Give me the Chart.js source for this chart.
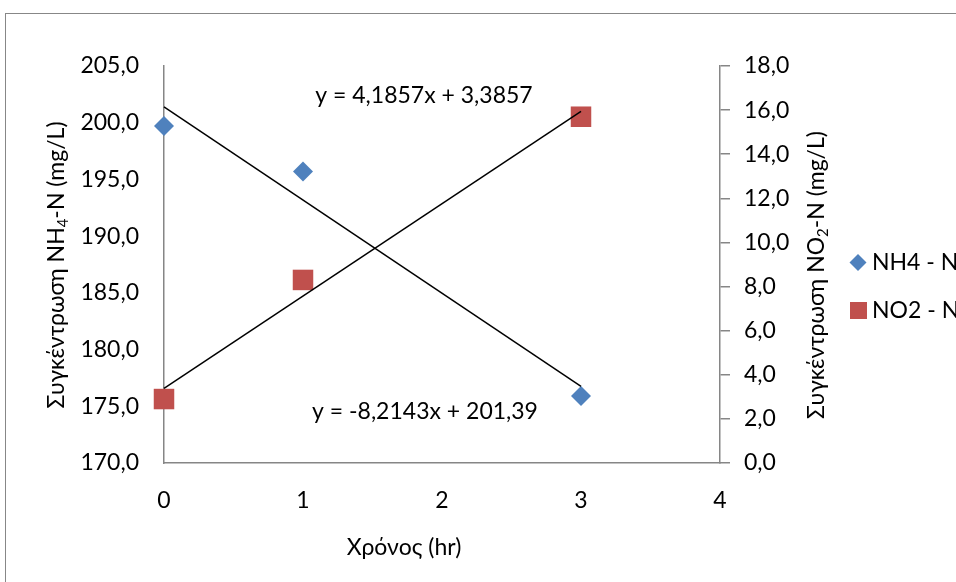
<!DOCTYPE html>
<html>
<head>
<meta charset="utf-8">
<script src="https://cdn.jsdelivr.net/npm/chart.js@4.4.1/dist/chart.umd.min.js"></script>
<style>
    html, body { margin: 0; padding: 0; background: #fff; }
    #wrap { width: 956px; height: 582px; }
</style>
</head>
<body>
<div id="wrap"><canvas id="myChart" width="956" height="582"></canvas></div>
<script>
// Δεδομένα (τιμές από το γράφημα)
const times = [0, 1, 3];
const nh4 = [199.7, 195.7, 175.9];
const no2 = [2.9, 8.3, 15.7];

// Γραμμές τάσης (εξισώσεις όπως φαίνονται)
const trendX = [0, 3];
const nh4Trend = { slope: -8.2143, intercept: 201.39 };
const no2Trend = { slope: 4.1857, intercept: 3.3857 };
const nh4Label = 'y = -8,2143x + 201,39';
const no2Label = 'y = 4,1857x + 3,3857';

const seriesNames = ['NH4 - N', 'NO2 - N'];
const FONT = 'Lato, "Open Sans", sans-serif';
const AXIS_GRAY = '#868686';
const BLUE = '#4F81BD';
const RED = '#C0504D';

function fmt(v) {
    return v.toFixed(1).replace('.', ',');
}

// Κείμενο με δείκτη (subscript)
function drawParts(ctx, parts, x, y, size) {
    let total = 0;
    parts.forEach(p => {
        ctx.font = (p.sub ? size * 0.65 : size) + 'px ' + FONT;
        p.w = ctx.measureText(p.t).width;
        total += p.w;
    });
    let cx = x - total / 2;
    parts.forEach(p => {
        ctx.font = (p.sub ? size * 0.65 : size) + 'px ' + FONT;
        ctx.fillText(p.t, cx, p.sub ? y + size * 0.28 : y);
        cx += p.w;
    });
}

const extras = {
    id: 'extras',
    beforeDraw(chart) {
        const ctx = chart.ctx;
        ctx.save();
        ctx.strokeStyle = '#878787';
        ctx.lineWidth = 1;
        ctx.strokeRect(5.5, 13.5, 1000, 1000);
        ctx.restore();
    },
    afterDraw(chart) {
        const ctx = chart.ctx;
        ctx.save();
        ctx.fillStyle = '#000';
        ctx.textBaseline = 'middle';
        ctx.textAlign = 'left';

        // τίτλος αριστερού άξονα
        ctx.save();
        ctx.translate(57, 265);
        ctx.rotate(-Math.PI / 2);
        drawParts(ctx, [{ t: 'Συγκέντρωση NH' }, { t: '4', sub: true }, { t: '-N (mg/L)' }], 0, 0, 23);
        ctx.restore();

        // τίτλος δεξιού άξονα
        ctx.save();
        ctx.translate(817, 275);
        ctx.rotate(-Math.PI / 2);
        drawParts(ctx, [{ t: 'Συγκέντρωση NO' }, { t: '2', sub: true }, { t: '-N (mg/L)' }], 0, 0, 23);
        ctx.restore();

        // τίτλος άξονα x
        drawParts(ctx, [{ t: 'Χρόνος (hr)' }], 404, 548, 23);

        // εξισώσεις
        drawParts(ctx, [{ t: no2Label }], 424, 96, 23);
        drawParts(ctx, [{ t: nh4Label }], 425, 412, 23);

        // υπόμνημα
        ctx.font = '23px ' + FONT;
        ctx.fillStyle = BLUE;
        ctx.beginPath();
        ctx.moveTo(858, 254); ctx.lineTo(866.5, 262.5); ctx.lineTo(858, 271); ctx.lineTo(849.5, 262.5);
        ctx.closePath();
        ctx.fill();
        ctx.fillStyle = RED;
        ctx.fillRect(850, 302, 17, 17);
        ctx.fillStyle = '#000';
        ctx.fillText(seriesNames[0], 872, 263);
        ctx.fillText(seriesNames[1], 872, 311);
        ctx.restore();
    }
};

const ctx = document.getElementById('myChart').getContext('2d');
new Chart(ctx, {
    type: 'scatter',
    data: {
        datasets: [
            {
                label: 'trend NH4',
                type: 'line',
                data: trendX.map(x => ({ x: x, y: nh4Trend.slope * x + nh4Trend.intercept })),
                yAxisID: 'y',
                borderColor: '#000',
                borderWidth: 1.5,
                pointRadius: 0,
                fill: false,
                clip: false,
                order: 0
            },
            {
                label: 'trend NO2',
                type: 'line',
                data: trendX.map(x => ({ x: x, y: no2Trend.slope * x + no2Trend.intercept })),
                yAxisID: 'y1',
                borderColor: '#000',
                borderWidth: 1.5,
                pointRadius: 0,
                fill: false,
                clip: false,
                order: 0
            },
            {
                label: seriesNames[0],
                data: times.map((t, i) => ({ x: t, y: nh4[i] })),
                yAxisID: 'y',
                pointStyle: 'rectRot',
                pointRadius: 10,
                backgroundColor: BLUE,
                borderColor: BLUE,
                borderWidth: 0,
                clip: false,
                order: 1
            },
            {
                label: seriesNames[1],
                data: times.map((t, i) => ({ x: t, y: no2[i] })),
                yAxisID: 'y1',
                pointStyle: 'rect',
                pointRadius: 14.5,
                backgroundColor: RED,
                borderColor: RED,
                borderWidth: 0,
                clip: false,
                order: 1
            }
        ]
    },
    options: {
        responsive: false,
        animation: false,
        events: [],
        layout: { padding: { top: 66, left: 0, right: 0, bottom: 0 } },
        plugins: {
            legend: { display: false },
            tooltip: { enabled: false }
        },
        scales: {
            x: {
                type: 'linear',
                min: 0,
                max: 4,
                ticks: { stepSize: 1, padding: 24, color: '#000', font: { family: FONT, size: 23 } },
                grid: { drawOnChartArea: false, drawTicks: false },
                border: { color: AXIS_GRAY, width: 1.5 },
                afterFit: s => { s.height = 119; }
            },
            y: {
                position: 'left',
                min: 170,
                max: 205,
                ticks: { stepSize: 5, padding: 25, color: '#000', callback: v => fmt(v), font: { family: FONT, size: 23 } },
                grid: { drawOnChartArea: false, drawTicks: false },
                border: { color: AXIS_GRAY, width: 1.5 },
                afterFit: s => { s.width = 164; }
            },
            y1: {
                position: 'right',
                min: 0,
                max: 18,
                ticks: { stepSize: 2, padding: 14, color: '#000', callback: v => fmt(v), font: { family: FONT, size: 23 } },
                grid: { drawOnChartArea: false, drawTicks: true, tickLength: 10, color: AXIS_GRAY, lineWidth: 1.5 },
                border: { color: AXIS_GRAY, width: 1.5 },
                afterFit: s => { s.width = 236; }
            }
        }
    },
    plugins: [extras]
});
</script>
</body>
</html>
